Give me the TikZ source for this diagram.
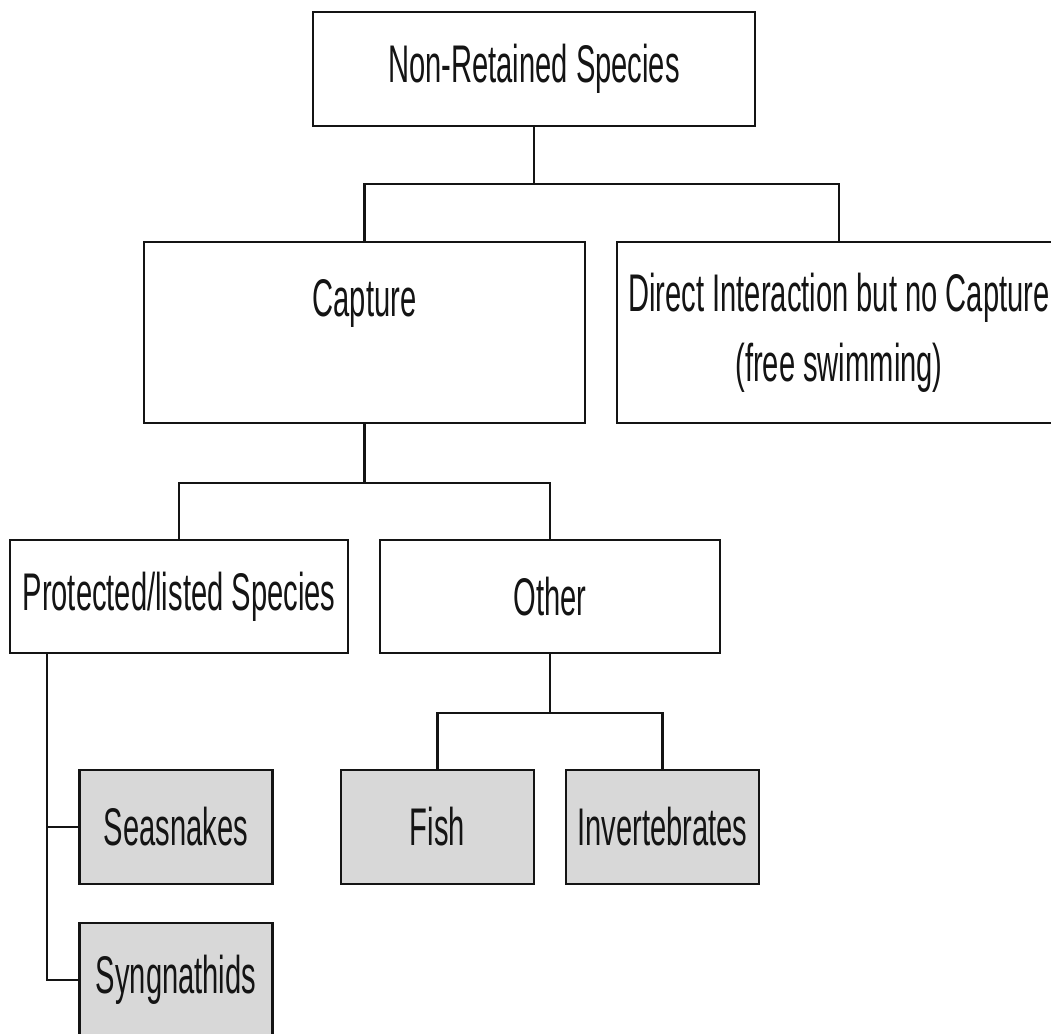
\documentclass[tikz,border=0pt]{standalone}
\usepackage{fontspec}
\setmainfont{Liberation Sans}[FakeStretch=0.55]
\usetikzlibrary{positioning}
\definecolor{nrsInk}{HTML}{141414}
\definecolor{nrsGrey}{HTML}{D8D8D8}
\definecolor{nrsPaper}{HTML}{FFFFFF}

\begin{document}
\begin{tikzpicture}[x=1pt,y=-1pt,line join=miter]
\useasboundingbox (0,0) rectangle (1051,1033);
\clip (0,0) rectangle (1051,1033);
\path[fill=nrsPaper] (0,0) rectangle (1051,1033);
\tikzset{box/.style={draw=nrsInk,fill=white,text=nrsInk,line width=2.4pt,inner sep=0pt,align=center,font=\fontsize{53}{70}\selectfont},shaded/.style={box,fill=nrsGrey,minimum width=193pt,minimum height=114pt},wire/.style={draw=nrsInk,line width=2.2pt}}
\node[box,minimum width=442pt,minimum height=114pt] (nrs) at (534,69) {Non-Retained Species};
\node[box,minimum width=441pt,minimum height=181pt] (cap) at (364.5,332.5) {Capture\\\mbox{}};
\node[box,minimum width=444pt,minimum height=181pt] (dir) at (839,332.5) {Direct Interaction but no Capture\\(free swimming)};
\node[box,minimum width=338pt,minimum height=113pt] (prot) at (179,596.5) {Protected/listed Species};
\node[box,minimum width=340pt,minimum height=113pt] (oth) at (550,596.5) {Other};
\node[shaded] (sea) at (176,827) {Seasnakes};
\node[shaded] (syn) at (176,980) {Syngnathids};
\node[shaded] (fish) at (437.5,827) {Fish};
\node[shaded] (inv) at (662.5,827) {Invertebrates};
\draw[wire] (nrs.south) -- ++(0,57) coordinate (split1) -| (cap.north);
\draw[wire] (split1) -| (dir.north);
\draw[wire] (cap.south) -- ++(0,59) coordinate (split2) -| (prot.north);
\draw[wire] (split2) -| (oth.north);
\draw[wire] (oth.south) -- ++(0,59) coordinate (split3) -| (fish.north);
\draw[wire] (split3) -| (inv.north);
\draw[wire] (prot.south west) ++(38,0) coordinate (trunk) |- (syn.west);
\draw[wire] (trunk |- sea.west) -- (sea.west);
\end{tikzpicture}
\end{document}
